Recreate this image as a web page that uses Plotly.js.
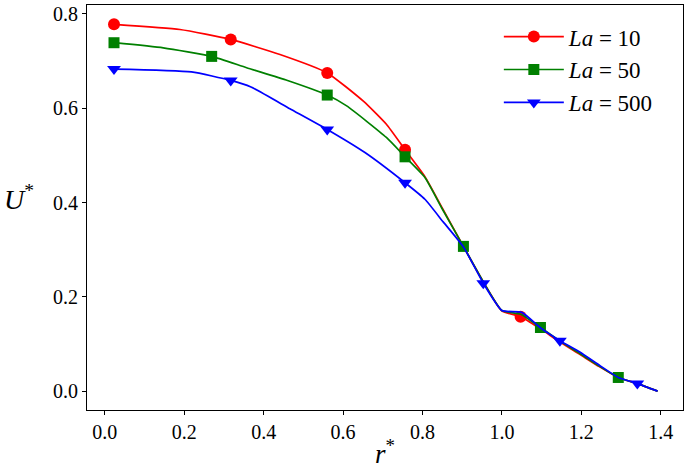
<!DOCTYPE html>
<html>
<head>
<meta charset="utf-8">
<script src="https://cdn.plot.ly/plotly-3.0.1.min.js"></script>
<style>
  html, body { margin: 0; padding: 0; background: #fff; }
  #chart { width: 685px; height: 470px; }
</style>
</head>
<body>
<div id="chart"></div>
<script>
// La = 10 (red) - full curve and marked points
const rLa10 = [0.023, 0.189, 0.317, 0.441, 0.560, 0.651, 0.709, 0.756, 0.806, 0.852, 0.903, 0.953, 1.0, 1.047, 1.097, 1.146, 1.196, 1.245, 1.293, 1.341, 1.392];
const uLa10 = [0.778, 0.767, 0.746, 0.714, 0.675, 0.615, 0.566, 0.512, 0.455, 0.385, 0.307, 0.232, 0.170, 0.158, 0.132, 0.104, 0.078, 0.052, 0.029, 0.016, 0.0];
const rLa10Mk = [0.023, 0.317, 0.560, 0.756, 1.047];
const uLa10Mk = [0.778, 0.746, 0.675, 0.512, 0.158];

// La = 50 (green)
const rLa50 = [0.023, 0.147, 0.269, 0.357, 0.460, 0.560, 0.609, 0.709, 0.756, 0.806, 0.848, 0.903, 0.953, 1.0, 1.047, 1.097, 1.146, 1.196, 1.245, 1.293, 1.341, 1.392];
const uLa50 = [0.739, 0.728, 0.710, 0.686, 0.659, 0.628, 0.605, 0.538, 0.497, 0.453, 0.389, 0.307, 0.232, 0.171, 0.163, 0.135, 0.106, 0.080, 0.053, 0.029, 0.016, 0.0];
const rLa50Mk = [0.023, 0.269, 0.560, 0.756, 0.903, 1.097, 1.293];
const uLa50Mk = [0.739, 0.710, 0.628, 0.497, 0.307, 0.135, 0.029];

// La = 500 (blue)
const rLa500 = [0.023, 0.218, 0.317, 0.368, 0.466, 0.560, 0.655, 0.756, 0.806, 0.852, 0.903, 0.953, 1.0, 1.05, 1.096, 1.146, 1.196, 1.247, 1.293, 1.341, 1.392];
const uLa500 = [0.683, 0.677, 0.659, 0.645, 0.599, 0.555, 0.506, 0.442, 0.407, 0.359, 0.306, 0.229, 0.171, 0.167, 0.135, 0.107, 0.083, 0.054, 0.029, 0.016, 0.0];
const rLa500Mk = [0.023, 0.317, 0.560, 0.756, 0.953, 1.146, 1.341];
const uLa500Mk = [0.683, 0.659, 0.555, 0.442, 0.229, 0.107, 0.016];

const seriesNames = ['<i>La</i> = 10', '<i>La</i> = 50', '<i>La</i> = 500'];

const FONT = 'Liberation Serif, DejaVu Serif, serif';

// put a gap after every marker so the legend gets line+marker but no extra segments are drawn
function gapped(arr) {
    return arr.flatMap(v => [v, null]);
}

function makeSeries(name, rLine, uLine, rMk, uMk, color, symbol, size) {
    var line = {
        x: rLine, y: uLine,
        mode: 'lines', type: 'scatter',
        line: { color: color, width: 1.7, shape: 'spline', smoothing: 0.5 },
        showlegend: false, hoverinfo: 'skip'
    };
    var marks = {
        x: gapped(rMk), y: gapped(uMk),
        mode: 'lines+markers', type: 'scatter',
        name: name,
        connectgaps: false,
        line: { color: color, width: 1.7 },
        marker: { color: color, symbol: symbol, size: size }
    };
    return [line, marks];
}

var data = [].concat(
    makeSeries(seriesNames[0], rLa10, uLa10, rLa10Mk, uLa10Mk, '#ff0000', 'circle', 12),
    makeSeries(seriesNames[1], rLa50, uLa50, rLa50Mk, uLa50Mk, '#008000', 'square', 11),
    makeSeries(seriesNames[2], rLa500, uLa500, rLa500Mk, uLa500Mk, '#0000ff', 'triangle-down', 12)
);

var axisCommon = {
    showgrid: false, zeroline: false,
    showline: true, mirror: true, linecolor: '#000', linewidth: 1,
    ticks: 'outside', ticklen: 4, tickwidth: 1, tickcolor: '#000',
    tickfont: { family: FONT, size: 20, color: '#000' },
    tickformat: '.1f', dtick: 0.2
};

var layout = {
    width: 685, height: 470,
    margin: { l: 87, r: 2, t: 5, b: 60 },
    paper_bgcolor: '#fff', plot_bgcolor: '#fff',
    font: { family: FONT, color: '#000' },
    xaxis: Object.assign({}, axisCommon, {
        range: [-0.045, 1.456], tick0: 0,
        title: { text: '<i>r</i><sup>*</sup>', font: { family: FONT, size: 27 }, standoff: 2 }
    }),
    yaxis: Object.assign({}, axisCommon, {
        range: [-0.04, 0.819], tick0: 0
    }),
    annotations: [{
        text: '<i>U</i><sup>*</sup>', xref: 'paper', yref: 'paper',
        x: -0.142, y: 0.525, xanchor: 'left', showarrow: false,
        font: { family: FONT, size: 28, color: '#000' }
    }],
    legend: {
        x: 0.691, y: 0.975, xanchor: 'left', yanchor: 'top',
        bgcolor: 'rgba(0,0,0,0)', borderwidth: 0,
        itemwidth: 60,
        font: { family: FONT, size: 23, color: '#000' }
    },
    showlegend: true
};

Plotly.newPlot('chart', data, layout, { staticPlot: true });
</script>
</body>
</html>
